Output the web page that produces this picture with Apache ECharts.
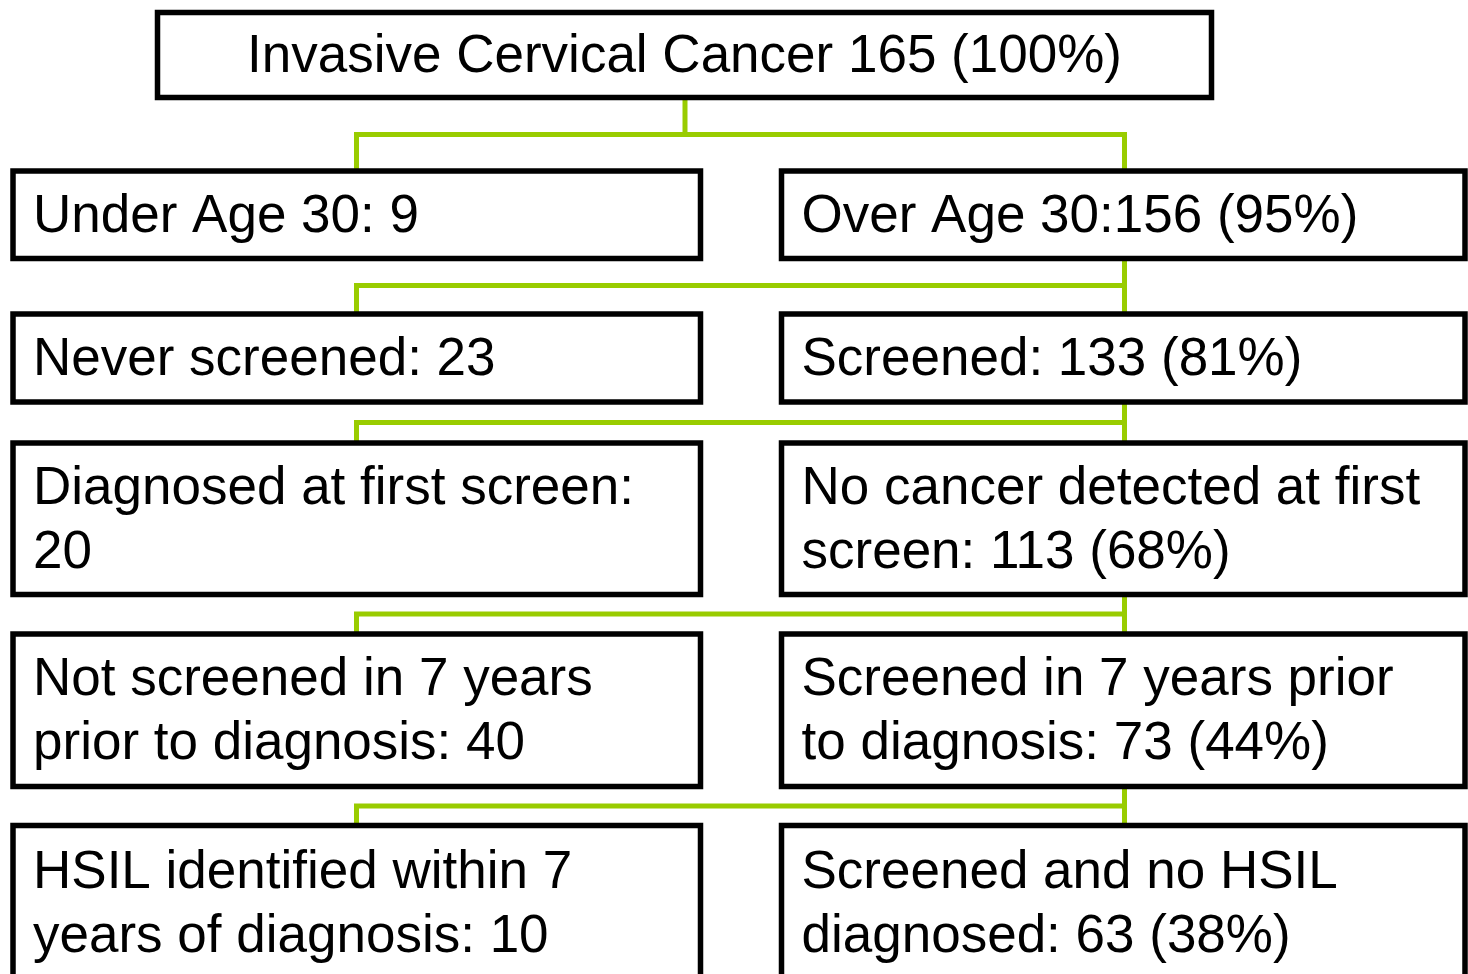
<!DOCTYPE html>
<html><head><meta charset="utf-8">
<script src="https://cdn.jsdelivr.net/npm/echarts@6/dist/echarts.min.js"></script>
<style>html,body{margin:0;padding:0;background:#fff}#c{width:1468px;height:974px}</style>
</head><body><div id="c"></div>
<script>
// ---------------- data ----------------
const topLabel = 'Invasive Cervical Cancer ';
const topCount = 165;
const topPct = 100;
const leftLabels = [
  'Under Age 30: ',
  'Never screened: ',
  'Diagnosed at first screen:\n',
  'Not screened in 7 years\nprior to diagnosis: ',
  'HSIL identified within 7\nyears of diagnosis: '
];
const leftCounts = [9, 23, 20, 40, 10];
const rightLabels = [
  'Over Age 30:',
  'Screened: ',
  'No cancer detected at first\nscreen: ',
  'Screened in 7 years prior\nto diagnosis: ',
  'Screened and no HSIL\ndiagnosed: '
];
const rightCounts = [156, 133, 113, 73, 63];
const rightPcts = [95, 81, 68, 44, 38];

// ---------------- layout (pixel space of hidden value axes) ----------------
const W = 1468, H = 974;
const topBox = [157.5, 12.5, 1211.5, 97.5];
const colX = [[13, 700.5], [781.5, 1465]];
const rowY = [[171, 258.5], [314, 402], [443, 594.5], [634, 786.5], [825.5, 980]];
const busY = [134.5, 285.5, 422.5, 614, 806];
const dropX = [356.5, 1124.5];
const topDropX = 685;
const PAD = 20;
const TEXT_DY = 2.5;
const GREEN = '#99cc00';
const FONT = 'Liberation Sans, Arial, sans-serif';

// build boxes
const boxes = [];
boxes.push({value: topBox, text: topLabel + topCount + ' (' + topPct + '%)', align: 'center'});
for (let i = 0; i < leftLabels.length; i++) {
  boxes.push({value: [colX[0][0], rowY[i][0], colX[0][1], rowY[i][1]],
              text: leftLabels[i] + leftCounts[i], align: 'left'});
  boxes.push({value: [colX[1][0], rowY[i][0], colX[1][1], rowY[i][1]],
              text: rightLabels[i] + rightCounts[i] + ' (' + rightPcts[i] + '%)', align: 'left'});
}

// connectors
const links = [];
links.push({coords: [[topDropX, topBox[3]], [topDropX, busY[0]]]});
links.push({coords: [[dropX[0], rowY[0][0]], [dropX[0], busY[0]], [dropX[1], busY[0]], [dropX[1], rowY[0][0]]]});
for (let i = 1; i < rowY.length; i++) {
  links.push({coords: [[dropX[1], rowY[i - 1][1]], [dropX[1], rowY[i][0]]]});
  links.push({coords: [[dropX[0], rowY[i][0]], [dropX[0], busY[i]], [dropX[1], busY[i]]]});
}

function renderBox(params, api) {
  const b = boxes[params.dataIndex];
  const p0 = api.coord([api.value(0), api.value(1)]);
  const p1 = api.coord([api.value(2), api.value(3)]);
  const tx = b.align === 'center' ? (p0[0] + p1[0]) / 2 : p0[0] + PAD;
  return {
    type: 'group',
    children: [
      {type: 'rect', shape: {x: p0[0], y: p0[1], width: p1[0] - p0[0], height: p1[1] - p0[1]},
       style: {fill: '#fff', stroke: '#000', lineWidth: 5.5}},
      {type: 'text', style: {text: b.text, x: tx, y: (p0[1] + p1[1]) / 2 + TEXT_DY,
        fill: '#000', fontSize: 53, fontFamily: FONT, lineHeight: 64,
        align: b.align, verticalAlign: 'middle'}}
    ]
  };
}

const chart = echarts.init(document.getElementById('c'));
chart.setOption({
  animation: false,
  backgroundColor: '#fff',
  grid: {left: 0, right: 0, top: 0, bottom: 0},
  xAxis: {type: 'value', min: 0, max: W, show: false},
  yAxis: {type: 'value', min: 0, max: H, inverse: true, show: false},
  series: [
    {type: 'lines', coordinateSystem: 'cartesian2d', polyline: true, silent: true, z: 1,
     lineStyle: {color: GREEN, width: 5, opacity: 1}, data: links},
    {type: 'custom', renderItem: renderBox, silent: true, z: 2, clip: false,
     data: boxes.map(b => b.value)}
  ]
});
</script></body></html>
